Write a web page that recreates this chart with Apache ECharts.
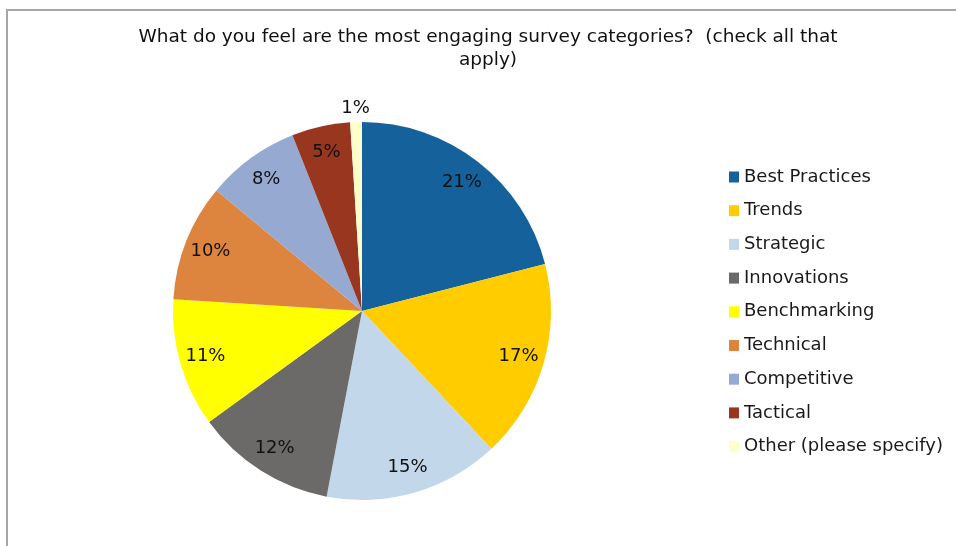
<!DOCTYPE html>
<html>
<head>
<meta charset="utf-8">
<script src="https://cdn.jsdelivr.net/npm/echarts@6/dist/echarts.min.js"></script>
<style>
  html, body { margin: 0; padding: 0; background: #fff; }
  #chart { position: absolute; left: 0; top: 0; width: 956px; height: 546px; }
  #frame { position: absolute; left: 6px; top: 9px; width: 960px; height: 560px;
           border-left: 2px solid #a6a6a6; border-top: 2px solid #a6a6a6; pointer-events: none; }
</style>
</head>
<body>
<div id="chart"></div>
<div id="frame"></div>
<script>
// Survey responses: share of respondents per category (percent)
const categories = ['Best Practices', 'Trends', 'Strategic', 'Innovations', 'Benchmarking',
                    'Technical', 'Competitive', 'Tactical', 'Other (please specify)'];
const shares = [21, 17, 15, 12, 11, 10, 8, 5, 1];
const colors = ['#14619b', '#ffcc00', '#c3d7ea', '#6b6a68', '#ffff00',
                '#dd843f', '#95a9d1', '#983620', '#ffffcc'];
const titleText = 'What do you feel are the most engaging survey categories?  (check all that\napply)';

const FONT = 'DejaVu Sans';
const center = [362, 311];
const R = 189;

const pieData = categories.map((name, i) => ({ name, value: shares[i], itemStyle: { color: colors[i] } }));

const chart = echarts.init(document.getElementById('chart'), null, { renderer: 'canvas' });
chart.setOption({
  backgroundColor: '#ffffff',
  animation: false,
  title: {
    text: titleText,
    left: 488, top: 26, textAlign: 'center', padding: 0,
    textStyle: { fontFamily: FONT, fontSize: 18.5, fontWeight: 'normal', color: '#111', lineHeight: 23 }
  },
  legend: {
    orient: 'vertical',
    left: 729, top: 167, padding: 0,
    itemWidth: 10, itemHeight: 11, itemGap: 13.7,
    icon: 'rect',
    textStyle: { fontFamily: FONT, fontSize: 18, color: '#1a1a1a', lineHeight: 20 },
    data: categories
  },
  series: [
    {
      // the filled pie
      type: 'pie', center, radius: [0, R], startAngle: 90, clockwise: true,
      silent: true, label: { show: false }, labelLine: { show: false },
      itemStyle: { borderWidth: 0 },
      data: pieData
    },
    {
      // transparent ring carrying the percentage labels inside the slices
      type: 'pie', center, radius: [131, R], startAngle: 90, clockwise: true,
      silent: true, legendHoverLink: false,
      itemStyle: { color: 'rgba(0,0,0,0)' },
      label: {
        show: true, position: 'inside', fontFamily: FONT, fontSize: 18, color: '#111',
        formatter: p => p.value + '%'
      },
      labelLine: { show: false },
      data: categories.map((name, i) => ({
        name: name + ' ', value: shares[i],
        label: { show: i < categories.length - 1 }
      }))
    },
    {
      // transparent outer ring for the label of the thin last slice
      type: 'pie', center, radius: [R, R + 22], startAngle: 90, clockwise: true,
      silent: true, legendHoverLink: false,
      itemStyle: { color: 'rgba(0,0,0,0)' },
      label: {
        show: true, position: 'inside', fontFamily: FONT, fontSize: 18, color: '#111',
        formatter: p => p.value + '%'
      },
      labelLine: { show: false },
      data: categories.map((name, i) => ({
        name: name + '  ', value: shares[i],
        label: { show: i === categories.length - 1 }
      }))
    }
  ]
});
</script>
</body>
</html>
